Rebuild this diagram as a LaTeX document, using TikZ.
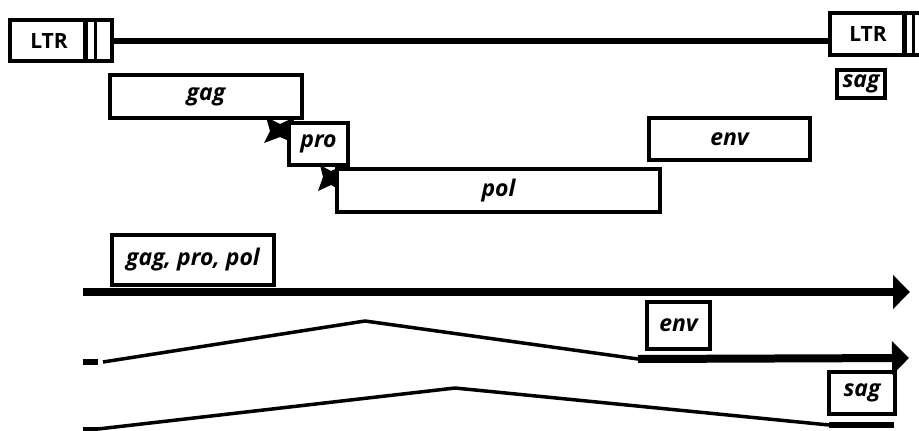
\documentclass[tikz,border=0pt]{standalone}
\usepackage{fontspec}
\setmainfont{Open Sans}
\usetikzlibrary{arrows.meta}
\tikzset{
  box/.style={draw, line width=4pt, fill=white, inner sep=0pt, font=\fontsize{23}{25}\selectfont\bfseries\itshape},
  ltrtext/.style={inner sep=0pt, font=\fontsize{21}{23}\selectfont\bfseries},
  thickline/.style={line width=8pt},
  thinline/.style={line width=3.5pt, line join=round},
  bigarrow/.style={-{Triangle[length=17pt,width=33pt]}},
  marker/.style={fill=black},
}
\begin{document}
\begin{tikzpicture}[x=1pt,y=-1pt]
\clip (0,0) rectangle (919,431);
\fill[white] (0,0) rectangle (919,431);
% LTRs and provirus line
\node[box, minimum width=102pt, minimum height=41pt] (ltrL) at (61,40.5) {};
\node[ltrtext] (ltrLt) at (49,41) {LTR};
\draw[line width=5pt] (85,20) -- (85,61);
\draw[line width=3pt] (95,20) -- (95,61);
\node[box, minimum width=100pt, minimum height=42pt, anchor=west] (ltrR) at (828,33.5) {};
\node[ltrtext] (ltrRt) at (868,34) {LTR};
\draw[line width=5pt] (904,12.5) -- (904,54.5);
\draw[line width=3pt] (913.5,12.5) -- (913.5,54.5);
\draw[line width=6.5pt] (ltrL.east |- 0,41) -- (ltrR.west |- 0,41);
% cleavage markers
\fill[marker] (266,117) -- (280,124) -- (295,117) -- (290,131) -- (294,143) -- (280,137) -- (264,143) -- (270,131) -- cycle;
\fill[marker] (320,165) -- (331,171) -- (344,165) -- (339,177) -- (342,191) -- (331,185) -- (318,191) -- (323,177) -- cycle;
% gene boxes
\node[box, minimum width=192pt, minimum height=43pt] (gag) at (206,96.5) {gag};
\node[box, minimum width=48pt, minimum height=28pt] (sag) at (861,84) {sag};
\node[box, minimum width=161pt, minimum height=42pt] (env) at (729.5,139) {env};
\node[box, minimum width=323pt, minimum height=43pt] (pol) at (498.5,190.5) {pol};
\node[box, minimum width=59pt, minimum height=42pt] (pro) at (318.5,144) {pro};
% transcripts
\node[box, minimum width=162pt, minimum height=50pt] (gpp) at (193,260) {gag, pro, pol};
\node[box, minimum width=63pt, minimum height=47pt] (envb) at (678.5,325.5) {env};
\node[box, minimum width=66pt, minimum height=42pt] (sagb) at (862,393) {sag};
% full-length mRNA
\coordinate (a1s) at (83,292);
\coordinate (a1e) at (910,292);
\draw[thickline, bigarrow] (a1s) -- (a1e);
% env mRNA
\coordinate (b1) at (83,362);
\coordinate (b2) at (98,362);
\coordinate (b3) at (103,362);
\coordinate (b4) at (365,321);
\coordinate (b5) at (638,359);
\coordinate (b6) at (909,358);
\draw[line width=6.5pt] (b1) -- (b2);
\draw[thinline] (b3) -- (b4) -- (b5);
\draw[thickline, bigarrow] (b5) -- (b6);
% sag mRNA
\coordinate (c1) at (83,429);
\coordinate (c2) at (98,429);
\coordinate (c3) at (455,388);
\coordinate (c4) at (829,425);
\coordinate (c5) at (894,425);
\draw[line width=5pt] (c1) -- (c2);
\draw[thinline] (c2) -- (c3) -- (c4);
\draw[line width=6.5pt] (c4) -- (c5);
\end{tikzpicture}
\end{document}
